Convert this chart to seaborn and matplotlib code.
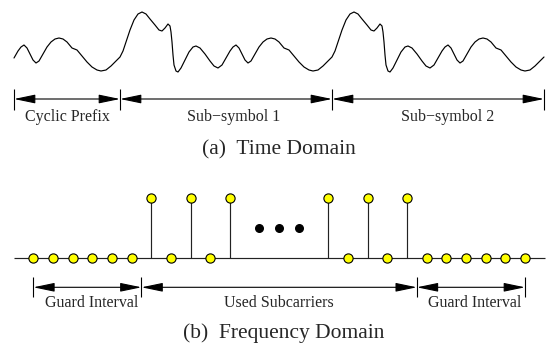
import numpy as np
import pandas as pd
import matplotlib
matplotlib.use("Agg")
import matplotlib.pyplot as plt
import seaborn as sns
from matplotlib.transforms import blended_transform_factory as btf

# ---------------- data ----------------
cyclic_prefix_len = 106
sub_symbol_len = 212
# one sub-symbol of the time-domain waveform (sample index, amplitude)
symbol_t = [0, 3, 6, 10, 14, 18, 22, 26, 30, 35, 39, 42, 45, 48, 50, 51, 52, 53, 54,
            56, 58, 61, 65, 69, 73, 76, 80, 85, 90, 94, 98, 102, 106, 110, 113, 116,
            119, 122, 125, 128, 131, 135, 139, 143, 147, 151, 155, 159, 164, 169, 174,
            179, 184, 189, 193, 198, 203, 207, 212]
symbol_amp = [18, 24, 33, 45, 55, 61, 63, 61, 56, 50, 45, 44, 47, 51, 49, 43, 33, 20, 10,
              4, 3, 7, 15, 23, 28, 29, 27, 21, 14, 9, 7, 10, 17, 24, 28, 30,
              27, 21, 15, 12, 14, 21, 28, 33, 36, 37, 36, 33, 27, 25, 19,
              13, 8, 5, 4, 5, 9, 13, 18]
time_labels = ["Cyclic Prefix", "Sub\u2212symbol 1", "Sub\u2212symbol 2"]

nan = np.nan
subcarrier_values = [0, 0, 0, 0, 0, 0,
                     1, 0, 1, 0, 1, nan, nan, nan, nan, 1, 0, 1, 0, 1,
                     0, 0, 0, 0, 0, 0]
guard_len = 6
used_len = 14
ellipsis_pos = [11.5, 12.5, 13.5]
ellipsis_level = 0.5
freq_labels = ["Guard Interval", "Used Subcarriers", "Guard Interval"]
captions = ["(a)  Time Domain", "(b)  Frequency Domain"]

# ---------------- build series ----------------
t = np.array(symbol_t, dtype=float)
a = np.array(symbol_amp, dtype=float)
start_cp = sub_symbol_len - cyclic_prefix_len
m = t >= start_cp
wave = pd.DataFrame({
    "t": np.concatenate([t[m] - start_cp, t + cyclic_prefix_len,
                         t + cyclic_prefix_len + sub_symbol_len]),
    "amp": np.concatenate([a[m], a, a]),
}).drop_duplicates("t")

sub = pd.DataFrame({"k": np.arange(len(subcarrier_values)), "v": subcarrier_values})
shown = sub.dropna()
stems = sub[sub.v > 0]

# ---------------- figure ----------------
sns.set_style("white")
plt.rcParams["font.family"] = ["Liberation Serif", "DejaVu Serif"]

W, H = 552, 345
fig = plt.figure(figsize=(W / 100, H / 100), dpi=100)
canvas = fig.add_axes([0, 0, 1, 1])
canvas.set_xlim(0, W)
canvas.set_ylim(H, 0)
canvas.axis("off")

# time-domain axes: t=0 at px 14, 1 px per sample; amp -> y_px = 75 - amp
ax_t = fig.add_axes([0, 0, 1, 1], facecolor="none")
ax_t.set_xlim(-14, W - 14)
ax_t.set_ylim(75 - H, 75)
ax_t.axis("off")

# frequency-domain axes
px_per_k = 19.668
k0_px = 33.3
ax_f = fig.add_axes([0, 0, 1, 1], facecolor="none")
ax_f.set_xlim(-k0_px / px_per_k, (W - k0_px) / px_per_k)
base_px, stem_px = 258.0, 60.0
ax_f.set_ylim((base_px - H) / stem_px, base_px / stem_px)
ax_f.axis("off")

LW = 0.85

# waveform
sns.lineplot(data=wave, x="t", y="amp", ax=ax_t, color="black", linewidth=LW,
             estimator=None, sort=False, legend=False)

# frequency domain
n = len(subcarrier_values)
ax_f.plot([-1, n], [0, 0], color="#222222", lw=LW, zorder=1, solid_capstyle="butt")
ax_f.vlines(stems.k, 0, stems.v, color="#222222", lw=LW, zorder=1)
sns.scatterplot(data=shown, x="k", y="v", ax=ax_f, color="#ffff00", edgecolor="black",
                linewidth=0.8, s=44, zorder=3, legend=False)
ax_f.scatter(ellipsis_pos, [ellipsis_level] * len(ellipsis_pos), s=30, color="black",
             zorder=3)


def span_row(ax_data, bounds, labels, y_px, tick_half, label_y, offsets):
    tr = btf(ax_data.transData, canvas.transData)
    for b in bounds:
        canvas.plot([b, b], [y_px - tick_half, y_px + tick_half], color="black",
                    lw=0.8, transform=tr, solid_capstyle="butt")
    for i, lab in enumerate(labels):
        x0, x1 = bounds[i], bounds[i + 1]
        canvas.annotate("", xy=(x1, y_px), xytext=(x0, y_px), xycoords=tr, textcoords=tr,
                        arrowprops=dict(arrowstyle="<|-|>,head_length=1.3,head_width=0.27",
                                        mutation_scale=10, shrinkA=0, shrinkB=0,
                                        color="black", lw=0.8))
        cx = ax_data.transData.transform(((x0 + x1) / 2, 0))[0]
        cx_px = canvas.transData.inverted().transform((cx, 0))[0] + offsets[i]
        canvas.text(cx_px, label_y, lab, ha="center", va="baseline", fontsize=11.5)


t_bounds = [0, cyclic_prefix_len, cyclic_prefix_len + sub_symbol_len,
            cyclic_prefix_len + 2 * sub_symbol_len]
span_row(ax_t, t_bounds, time_labels, 99, 10.5, 120.7, [0, 8, 10])

f_bounds = [0, guard_len - 0.5, guard_len + used_len - 0.5, n - 1]
span_row(ax_f, f_bounds, freq_labels, 287.3, 10, 306.7, [4, 0, 4])

canvas.text(279, 154, captions[0], ha="center", va="baseline", fontsize=15.5)
canvas.text(284, 338.3, captions[1], ha="center", va="baseline", fontsize=15.5)

fig.savefig("out.png", dpi=100)
